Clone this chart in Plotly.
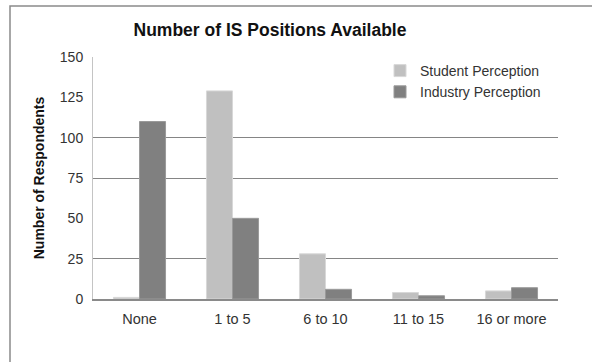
import plotly.graph_objects as go

# Survey results: how many IS positions respondents believe are available
categories = ["None", "1 to 5", "6 to 10", "11 to 15", "16 or more"]
student_perception = [1, 129, 28, 4, 5]
industry_perception = [110, 50, 6, 2, 7]
y_ticks = [0, 25, 50, 75, 100, 125, 150]
grid_values = [25, 75, 100]

W, H = 592, 362
L, R, T, B = 93, 34, 57, 63
plot_w = W - L - R
plot_h = H - T - B

FONT = "Arial, Liberation Sans, sans-serif"

fig = go.Figure()
fig.add_trace(go.Bar(
    name="Student Perception", x=categories, y=student_perception,
    marker=dict(color="#c0c0c0", line=dict(color="#d8d8d8", width=1)),
))
fig.add_trace(go.Bar(
    name="Industry Perception", x=categories, y=industry_perception,
    marker=dict(color="#808080", line=dict(color="#9a9a9a", width=1)),
))
# invisible trace that carries the secondary axis used for gridlines
fig.add_trace(go.Scatter(x=categories, y=industry_perception, yaxis="y2",
                         mode="markers", marker=dict(opacity=0),
                         showlegend=False, hoverinfo="skip"))


def px_x(px):
    return (px - L) / plot_w


def px_y(py):
    return (H - B - py) / plot_h


fig.update_layout(
    width=W, height=H,
    margin=dict(l=L, r=R, t=T, b=B),
    paper_bgcolor="white", plot_bgcolor="white",
    barmode="group", bargap=0.44, bargroupgap=0,
    font=dict(family=FONT, size=14, color="#333333"),
    title=dict(text="<b>Number of IS Positions Available</b>",
               font=dict(family=FONT, size=17.5, color="#111111"),
               xref="container", x=270 / W, xanchor="center",
               yref="container", y=1 - 30 / H, yanchor="middle"),
    xaxis=dict(showgrid=False, showline=True, linecolor="#8a8a8a", linewidth=1.5,
               ticks="", tickfont=dict(size=14.5, color="#333333"),
               ticklabelstandoff=6),
    yaxis=dict(range=[0, 150], tickvals=y_ticks, showgrid=False, zeroline=False,
               showline=True, linecolor="#c4c4c4", linewidth=1,
               ticks="", ticklabelstandoff=6,
               tickfont=dict(size=14, color="#333333"),
               title=dict(text="<b>Number of Respondents</b>",
                          font=dict(size=14, color="#111111"), standoff=11)),
    yaxis2=dict(range=[0, 150], overlaying="y", tickvals=grid_values,
                showticklabels=False, showgrid=True, gridcolor="#858585",
                gridwidth=1, zeroline=False, ticks=""),
    legend=dict(x=px_x(380), xanchor="left", y=px_y(55), yanchor="top",
                bgcolor="rgba(255,255,255,0)", font=dict(size=14, color="#333333"),
                itemwidth=30, tracegroupgap=0),
    showlegend=True,
)

# outer chart frame
fig.add_shape(type="rect", xref="paper", yref="paper",
              x0=px_x(10), x1=px_x(600), y0=px_y(370), y1=px_y(6),
              line=dict(color="#8a8a8a", width=1.5), layer="above")

fig.write_html("out.html")
